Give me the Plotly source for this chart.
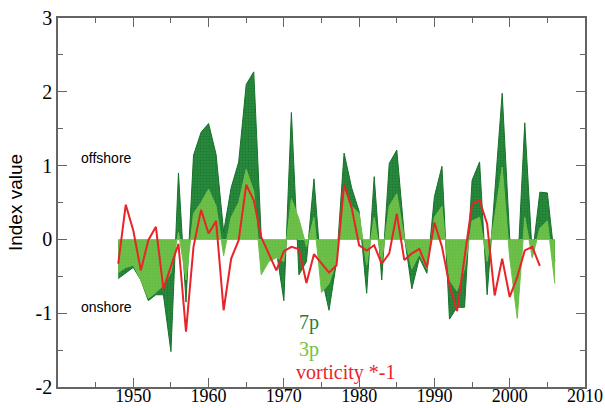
import plotly.graph_objects as go

years = list(range(1948, 2007))
p7 = [-0.53, -0.45, -0.38, -0.55, -0.83, -0.75, -0.75, -1.52, 0.90, -0.85,
      1.14, 1.45, 1.57, 1.15, 0.10, 0.70, 1.05, 2.10, 2.27, 0.02,
      -0.20, -0.15, -0.83, 1.72, -0.48, -0.30, 0.82, -0.50, -0.96, -0.30,
      1.17, 0.70, 0.38, -0.73, 0.85, -0.55, 1.03, 1.21, 0.05, -0.67,
      -0.25, -0.46, 0.58, 0.99, -1.08, -0.92, -0.92, 0.80, 1.05, -0.75,
      0.60, 1.98, 0.02, -0.50, 1.58, -0.23, 0.64, 0.63, -0.30]
p3 = [-0.45, -0.38, -0.35, -0.55, -0.80, -0.72, -0.62, -0.45, 0.10, -0.55,
      0.35, 0.50, 0.68, 0.45, -0.22, 0.30, 0.50, 0.95, 0.65, -0.48,
      -0.30, -0.25, -0.30, 0.55, 0.28, -0.10, 0.30, -0.72, -0.60, -0.30,
      0.72, 0.45, 0.35, -0.35, 0.30, -0.30, 0.45, 0.62, 0.02, -0.40,
      -0.20, -0.40, 0.30, 0.45, -0.55, -0.70, -0.40, 0.25, 0.30, -0.30,
      0.30, 0.98, -0.25, -1.07, 0.30, -0.25, 0.15, 0.25, -0.60]
vort_years = list(range(1948, 2005))
vort = [-0.33, 0.47, 0.12, -0.42, -0.01, 0.17, -0.67, -0.37, -0.06, -1.25,
        -0.10, 0.40, 0.08, 0.25, -0.96, -0.26, -0.01, 0.74, 0.53, 0.03,
        -0.20, -0.42, -0.16, -0.10, -0.13, -0.59, -0.20, -0.33, -0.45, -0.35,
        0.74, 0.43, -0.08, -0.15, -0.08, -0.33, -0.19, 0.35, -0.28, -0.19,
        -0.13, -0.38, 0.23, -0.10, -0.62, -0.97, -0.25, 0.48, 0.53, 0.21,
        -0.76, -0.26, -0.78, -0.51, -0.15, -0.10, -0.36]

x_ticks = [1950, 1960, 1970, 1980, 1990, 2000, 2010]
y_ticks = [-2, -1, 0, 1, 2, 3]

DARK = "rgb(40,138,60)"
DARK_EDGE = "rgb(24,112,44)"
LIGHT = "rgb(108,192,72)"
RED = "rgb(232,36,40)"

fig = go.Figure()
fig.add_trace(go.Scatter(
    x=years, y=p7, mode="lines", fill="tozeroy",
    line=dict(color=DARK_EDGE, width=1),
    fillcolor=DARK,
    fillpattern=dict(shape=".", size=3, solidity=0.35, fgcolor="rgb(22,102,42)", bgcolor=DARK),
    showlegend=False))
fig.add_trace(go.Scatter(
    x=years, y=p3, mode="lines", fill="tozeroy",
    line=dict(color=LIGHT, width=1),
    fillcolor=LIGHT,
    fillpattern=dict(shape=".", size=3, solidity=0.3, fgcolor="rgb(92,178,62)", bgcolor=LIGHT),
    showlegend=False))
fig.add_trace(go.Scatter(
    x=vort_years, y=vort, mode="lines",
    line=dict(color=RED, width=2),
    showlegend=False))

serif = "Liberation Serif, Times New Roman, serif"
sans = "Liberation Sans, Arial, sans-serif"

fig.add_annotation(x=1946.4, y=1.10, text="offshore", showarrow=False,
                   font=dict(family=sans, size=14, color="black"))
fig.add_annotation(x=1946.5, y=-0.91, text="onshore", showarrow=False,
                   font=dict(family=sans, size=14, color="black"))
fig.add_annotation(x=1971.8, y=-1.12, text="7p", showarrow=False, xanchor="left", yanchor="middle",
                   font=dict(family=serif, size=20, color="rgb(30,130,55)"))
fig.add_annotation(x=1971.8, y=-1.49, text="3p", showarrow=False, xanchor="left", yanchor="middle",
                   font=dict(family=serif, size=20, color="rgb(110,195,70)"))
fig.add_annotation(x=1971.4, y=-1.81, text="vorticity *-1", showarrow=False, xanchor="left", yanchor="middle",
                   font=dict(family=serif, size=20, color=RED))

axis_common = dict(
    showgrid=False, zeroline=False, showline=True, linecolor="rgb(100,100,100)", linewidth=1.5,
    mirror="ticks", ticks="inside", ticklen=9, tickcolor="rgb(100,100,100)", tickwidth=1.3,
    automargin=False,
)
fig.update_layout(
    width=605, height=408,
    margin=dict(l=58, r=20, t=18, b=21),
    paper_bgcolor="white", plot_bgcolor="white",
    xaxis=dict(range=[1940, 2010], tickvals=x_ticks, ticktext=[str(v) for v in x_ticks],
               tickfont=dict(family=serif, size=18, color="black"), ticklabelstandoff=-8,
               minor=dict(dtick=5, tick0=1940, ticks="inside", ticklen=5, tickcolor="rgb(100,100,100)"),
               **axis_common),
    yaxis=dict(range=[-2, 3], tickvals=y_ticks, ticktext=[str(v) for v in y_ticks],
               tickfont=dict(family=serif, size=20, color="black"),
               minor=dict(dtick=0.5, tick0=-2, ticks="inside", ticklen=5, tickcolor="rgb(100,100,100)"),
               title=dict(text="Index value", font=dict(family=sans, size=19, color="black"), standoff=8),
               **axis_common),
)
fig.write_html("out.html")
